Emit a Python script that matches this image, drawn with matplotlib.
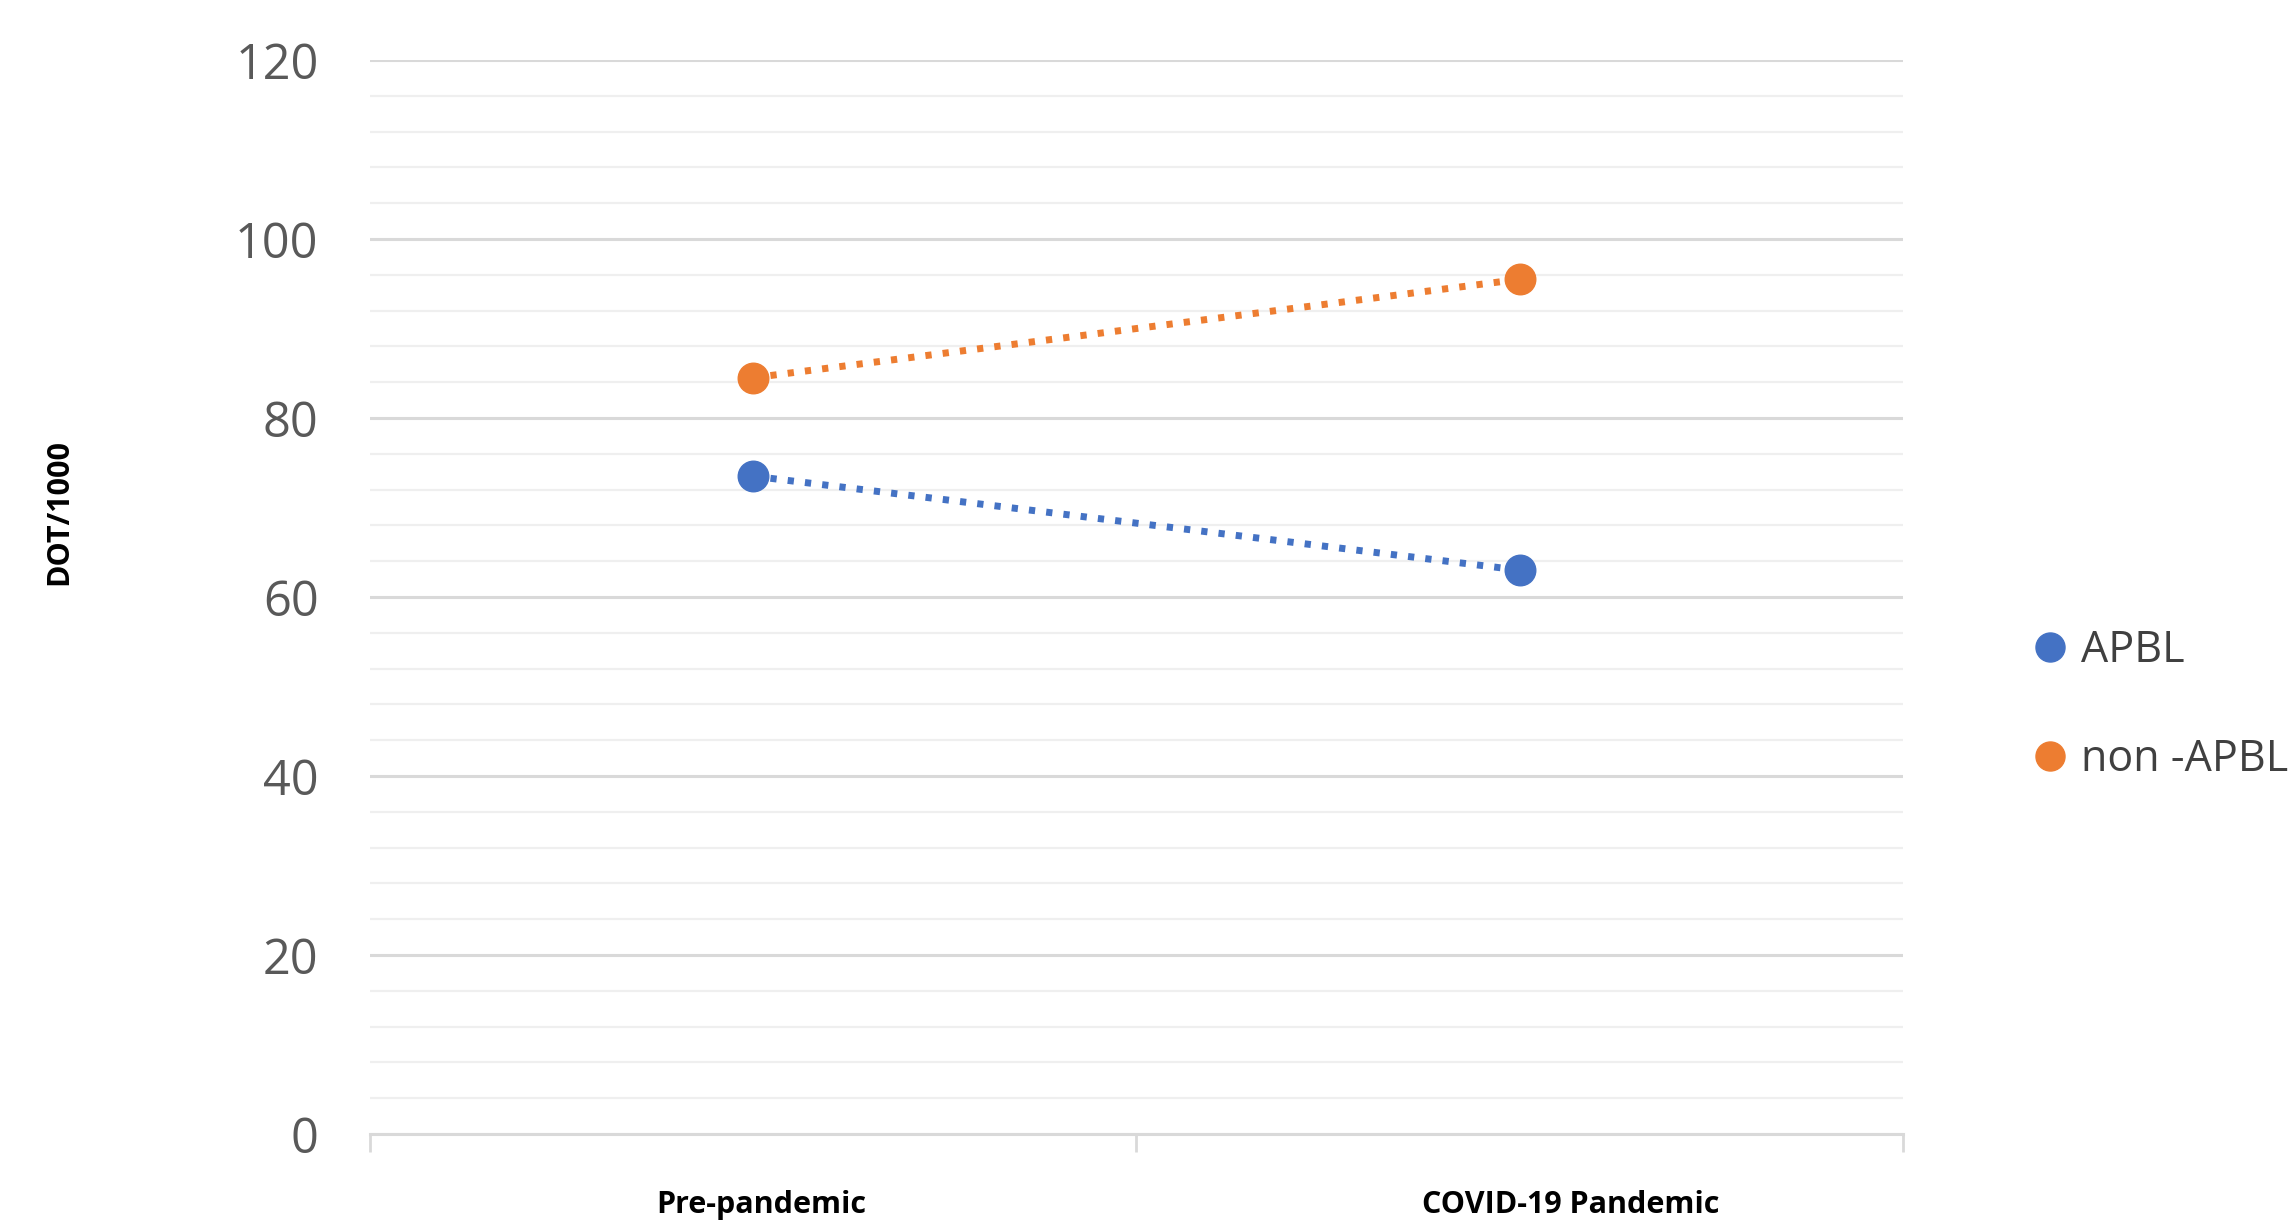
# Pre-pandemic vs pandemic DOT/1000 for APBL and non-APBL groups.

import numpy as np
import matplotlib.pyplot as plt

periods = ['Pre-pandemic', 'COVID-19 Pandemic']
apbl = [73.5, 63.0]
non_apbl = [84.5, 95.5]
series_names = ['APBL', 'non -APBL']
y_ticks = [0, 20, 40, 60, 80, 100, 120]

blue, orange = '#4472C4', '#ED7D31'

fig = plt.figure(figsize=(22.95, 12.2), dpi=100)
ax = fig.add_axes([0.1612, 0.0705, 0.668, 0.8803])

x = np.arange(len(periods))
dots = (0, (0.9, 1.6))
ax.plot(x, apbl, color=blue, lw=5, linestyle=dots, marker='o', ms=22,
        label=series_names[0], zorder=3)
ax.plot(x, non_apbl, color=orange, lw=5, linestyle=dots, marker='o', ms=22,
        label=series_names[1], zorder=3)

ax.set_xlim(-0.5, 1.5)
ax.set_ylim(0, 120)

# Gridlines: major every 20, minor every 4
ax.set_yticks(y_ticks)
ax.set_yticks(np.arange(0, 121, 4), minor=True)
ax.grid(axis='y', which='major', color='#D9D9D9', lw=2.2, zorder=0)
ax.grid(axis='y', which='minor', color='#EFEFEF', lw=1.6, zorder=0)
ax.tick_params(axis='y', which='both', length=0, pad=37,
               labelsize=35, labelcolor='#595959')
for lab in ax.get_yticklabels():
    lab.set_fontfamily('Open Sans')

# Category axis with boundary tick marks, labels drawn as text below
ax.set_xticks([-0.5, 0.5, 1.5])
ax.set_xticklabels([])
ax.tick_params(axis='x', length=13, width=2, color='#D9D9D9')
for side in ['top', 'right', 'left']:
    ax.spines[side].set_visible(False)
ax.spines['bottom'].set_color('#D9D9D9')
ax.spines['bottom'].set_linewidth(2.2)

label_shift = [0.01, 0.067]
for i, name in enumerate(periods):
    ax.text(x[i] + label_shift[i], -0.066, name, transform=ax.get_xaxis_transform(),
            ha='center', va='center', fontsize=22, fontweight='bold',
            family='Open Sans', color='black')

fig.text(0.026, 0.58, 'DOT/1000', rotation=90, ha='center', va='center',
         fontsize=22, fontweight='bold', family='Open Sans', color='black')

leg = ax.legend(loc='center left', bbox_to_anchor=(0.871, 0.422),
                bbox_transform=fig.transFigure, frameon=False,
                prop={'family': 'Open Sans', 'size': 31},
                labelcolor='#404040', handlelength=0.55, handletextpad=0.45,
                labelspacing=1.49, markerscale=0.95)
for h in leg.get_lines():
    h.set_linestyle('none')

fig.savefig('out.png', dpi=100)
